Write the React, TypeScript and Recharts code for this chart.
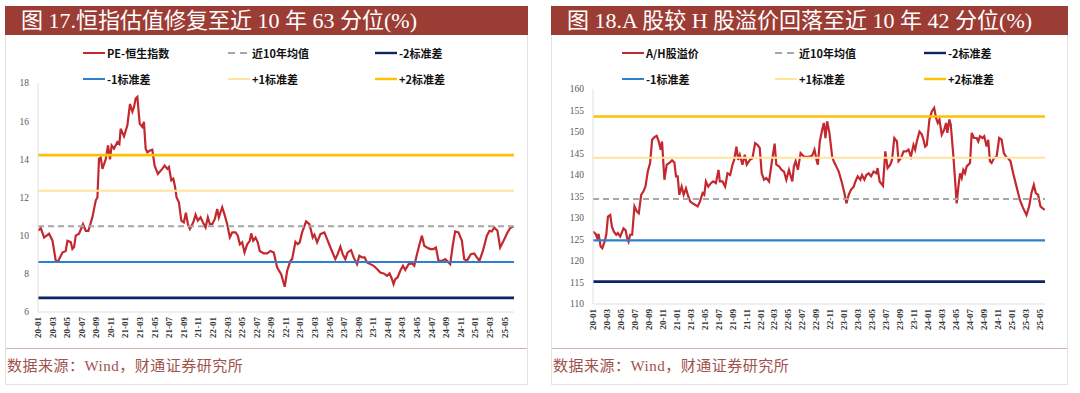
import type { CSSProperties } from 'react';
import { Line, LineChart, ReferenceLine, XAxis, YAxis } from 'recharts';

type Pair = [number, number];

// x = months since 2020-01, y = value
const xTickLabels = [
  '20-01', '20-03', '20-05', '20-07', '20-09', '20-11',
  '21-01', '21-03', '21-05', '21-07', '21-09', '21-11',
  '22-01', '22-03', '22-05', '22-07', '22-09', '22-11',
  '23-01', '23-03', '23-05', '23-07', '23-09', '23-11',
  '24-01', '24-03', '24-05', '24-07', '24-09', '24-11',
  '25-01', '25-03', '25-05',
];

const pePairs: Pair[] = [
  [0, 10.26], [0.38, 10.4], [0.84, 9.9], [1.52, 10.1], [1.98, 9.75], [2.44, 8.68], [2.76, 8.65], [3.35, 9.12],
  [3.8, 9.2], [4.04, 9.73], [4.49, 9.66], [4.72, 9.3], [4.95, 9.4], [5.18, 10.0], [5.63, 10.1], [6.18, 10.6],
  [6.55, 10.25], [6.91, 10.25], [7.46, 10.96], [7.92, 11.84], [8.15, 12.0], [8.37, 14.03], [8.6, 14.1], [8.84, 13.5],
  [9.29, 14.0], [9.6, 14.73], [9.88, 14.0], [10.1, 14.73], [10.42, 14.56], [10.89, 14.9], [11.16, 14.8], [11.34, 15.6],
  [11.8, 15.2], [12.26, 15.78], [12.62, 16.9], [12.95, 16.5], [13.17, 16.75], [13.4, 17.18], [13.63, 17.27], [13.95, 15.87],
  [14.31, 15.7], [14.53, 15.96], [14.77, 14.55], [15.0, 14.37], [15.36, 14.46], [15.68, 14.5], [16.0, 13.67], [16.45, 13.24],
  [17.05, 13.5], [17.37, 13.67], [17.74, 13.5], [17.96, 13.6], [18.29, 12.9], [18.56, 12.98], [18.78, 12.6], [19.01, 12.0],
  [19.33, 11.75], [19.66, 10.79], [20.01, 10.7], [20.29, 11.2], [20.56, 10.6], [20.84, 10.35], [21.3, 10.7], [21.62, 11.1],
  [21.93, 10.79], [22.3, 10.96], [22.62, 10.7], [22.99, 10.43], [23.3, 10.96], [23.58, 10.6], [23.9, 10.6], [24.26, 10.88],
  [24.59, 11.4], [24.81, 10.96], [25.27, 11.49], [25.59, 11.1], [25.96, 10.6], [26.32, 9.91], [26.64, 10.17], [27.1, 10.17],
  [27.41, 10.0], [27.69, 9.55], [28.01, 9.65], [28.33, 9.12], [28.7, 9.55], [29.05, 9.73], [29.25, 10.12], [29.52, 9.73],
  [29.84, 9.9], [30.15, 9.65], [30.42, 9.2], [30.97, 9.07], [31.44, 9.07], [31.89, 9.2], [32.34, 9.12], [32.81, 8.33],
  [33.36, 7.98], [33.85, 7.32], [34.18, 8.16], [34.63, 8.68], [34.86, 8.77], [35.32, 9.68], [35.63, 9.55], [35.9, 9.65],
  [36.23, 10.17], [36.78, 10.75], [37.23, 10.6], [37.69, 9.91], [37.92, 10.05], [38.29, 9.65], [38.74, 10.08], [39.29, 10.17],
  [39.66, 9.82], [40.2, 9.3], [40.79, 8.77], [41.11, 9.03], [41.48, 9.42], [41.8, 9.03], [42.16, 8.77], [42.48, 9.12],
  [42.95, 9.24], [43.3, 8.86], [43.77, 8.51], [44.08, 8.95], [44.45, 8.86], [44.81, 8.86], [45.14, 8.6], [45.59, 8.51],
  [46.04, 8.42], [46.51, 8.25], [46.96, 8.07], [47.41, 8.02], [47.88, 7.9], [48.23, 8.02], [48.56, 7.72], [48.78, 7.46],
  [49.01, 7.72], [49.33, 7.81], [49.7, 8.16], [50.07, 8.42], [50.38, 8.2], [50.84, 8.51], [51.3, 8.55], [51.62, 8.42],
  [51.99, 9.03], [52.34, 9.55], [52.67, 10.0], [52.99, 9.47], [53.36, 9.38], [53.81, 9.3], [54.26, 9.3], [54.59, 9.38],
  [54.95, 8.68], [55.41, 8.68], [55.86, 8.77], [56.32, 8.6], [56.55, 8.51], [56.92, 9.55], [57.23, 10.22], [57.68, 10.17],
  [58.15, 9.73], [58.47, 8.77], [58.84, 8.68], [59.38, 9.03], [59.84, 9.07], [60.21, 8.86], [60.56, 8.68], [61.03, 9.2],
  [61.58, 10.0], [61.93, 10.26], [62.26, 10.22], [62.58, 10.43], [63.03, 10.26], [63.4, 9.38], [63.77, 9.65], [64.32, 10.1],
  [64.77, 10.4], [65.22, 10.48],
];

const ahPairs: Pair[] = [
  [0, 126.85], [0.38, 126.3], [0.61, 125.3], [0.8, 126.3], [1.09, 123.4], [1.33, 123.0], [1.66, 124.5], [1.9, 126.1],
  [2.14, 130.3], [2.47, 130.7], [2.71, 128.0], [2.99, 126.8], [3.33, 126.1], [3.56, 126.5], [3.9, 125.7], [4.37, 127.6],
  [4.66, 127.2], [4.9, 125.3], [5.09, 124.5], [5.32, 126.1], [5.61, 126.1], [5.94, 132.7], [6.28, 131.5], [6.56, 131.1],
  [6.9, 135.4], [7.23, 136.2], [7.51, 137.3], [7.85, 140.8], [8.18, 142.8], [8.47, 148.2], [8.8, 148.8], [9.13, 149.1],
  [9.42, 147.8], [9.7, 145.9], [9.89, 147.8], [10.23, 138.9], [10.56, 142.4], [10.94, 142.8], [11.32, 143.4], [11.66, 142.9],
  [11.89, 139.7], [12.13, 139.7], [12.37, 135.4], [12.7, 137.3], [12.99, 135.4], [13.32, 136.9], [13.65, 135.0], [13.94, 133.8],
  [14.27, 133.4], [14.6, 133.1], [14.99, 132.7], [15.32, 133.8], [15.7, 135.8], [15.94, 135.4], [16.17, 138.5], [16.51, 137.3],
  [16.89, 138.1], [17.22, 138.5], [17.6, 138.1], [17.98, 141.2], [18.17, 138.5], [18.55, 138.5], [18.93, 137.3], [19.27, 140.4],
  [19.65, 140.0], [19.98, 142.4], [20.22, 143.5], [20.55, 146.6], [20.79, 143.5], [21.03, 144.7], [21.41, 142.4], [21.74, 144.7],
  [22.03, 142.4], [22.46, 143.5], [22.84, 143.9], [23.22, 147.4], [23.55, 147.0], [23.88, 146.3], [24.17, 140.4], [24.5, 138.9],
  [24.83, 139.3], [25.22, 138.5], [25.6, 142.8], [26.02, 147.3], [26.26, 142.4], [26.64, 142.0], [27.02, 141.2], [27.36, 140.8],
  [27.69, 138.9], [28.07, 141.2], [28.55, 138.5], [28.78, 142.0], [29.02, 143.2], [29.35, 141.2], [29.74, 145.1], [30.21, 144.3],
  [30.92, 144.2], [31.4, 144.5], [31.73, 145.9], [32.02, 143.5], [32.21, 142.4], [32.49, 147.8], [32.83, 150.5], [33.07, 152.1],
  [33.3, 148.6], [33.54, 152.5], [33.87, 149.8], [34.26, 144.3], [34.49, 143.2], [34.97, 141.6], [35.2, 140.8], [35.68, 138.1],
  [36.01, 135.8], [36.3, 133.4], [36.63, 135.4], [36.97, 136.6], [37.35, 137.3], [37.59, 138.5], [37.92, 139.7], [38.3, 138.9],
  [38.54, 140.0], [38.87, 138.9], [39.16, 140.0], [39.49, 140.4], [39.83, 139.7], [40.2, 140.8], [40.59, 140.4], [40.77, 141.6],
  [41.06, 138.5], [41.54, 137.5], [41.87, 145.5], [42.2, 141.6], [42.58, 142.4], [42.83, 143.5], [43.16, 148.6], [43.54, 147.8],
  [43.77, 143.2], [44.11, 143.9], [44.49, 145.5], [44.87, 145.5], [45.2, 145.9], [45.54, 144.3], [45.91, 147.0], [46.15, 145.9],
  [46.39, 147.8], [46.77, 150.1], [47.11, 149.4], [47.34, 148.2], [47.58, 146.6], [47.82, 147.0], [48.2, 153.0], [48.54, 154.8],
  [48.87, 155.6], [49.15, 153.2], [49.39, 152.1], [49.63, 152.9], [49.96, 149.4], [50.3, 150.5], [50.58, 152.1], [50.77, 149.8],
  [51.05, 152.9], [51.25, 151.7], [51.63, 144.3], [52.1, 133.4], [52.34, 137.3], [52.58, 140.4], [52.82, 139.3], [53.05, 141.2],
  [53.29, 140.4], [53.53, 142.0], [54.01, 142.8], [54.25, 149.8], [54.58, 148.6], [54.96, 148.6], [55.19, 147.8], [55.43, 149.0],
  [55.81, 148.6], [56.05, 149.0], [56.39, 146.6], [56.62, 148.2], [56.86, 143.2], [57.1, 142.8], [57.43, 143.9], [57.82, 144.3],
  [58.19, 148.6], [58.53, 148.2], [58.86, 145.1], [59.15, 144.3], [59.48, 143.9], [59.81, 143.2], [60.19, 140.4], [60.67, 137.3],
  [61.15, 134.2], [61.62, 132.3], [62.1, 130.7], [62.48, 132.7], [62.81, 135.8], [63.15, 137.7], [63.43, 135.8], [63.76, 135.4],
  [64.1, 132.7], [64.38, 132.3], [64.71, 131.9],
];

const peTicks = [6, 8, 10, 12, 14, 16, 18];
const ahTicks = [110, 115, 120, 125, 130, 135, 140, 145, 150, 155, 160];

// -2标准差, -1标准差, 近10年均值, +1标准差, +2标准差
const peBands = [6.74, 8.62, 10.49, 12.36, 14.22];
const ahBands = [115.2, 124.8, 134.4, 144.0, 153.6];
const bandNames = ['-2标准差', '-1标准差', '近10年均值', '+1标准差', '+2标准差'];

const RED = '#C4282F';
const bandStyle = [
  { color: '#0E2460', width: 2.6, dash: undefined },
  { color: '#2F80CC', width: 2.2, dash: undefined },
  { color: '#A6A6A6', width: 2, dash: '6 4' },
  { color: '#FFE49A', width: 2, dash: undefined },
  { color: '#FFC000', width: 2.6, dash: undefined },
];

const SERIF = '"Liberation Serif", "Times New Roman", "Noto Sans CJK SC", serif';
const SANS = '"Noto Sans CJK SC", "Noto Sans", sans-serif';

const RotTick = (props: any) => {
  const { x, y, payload } = props;
  return (
    <text
      x={x}
      y={y}
      dy={3}
      transform={`rotate(-90 ${x} ${y})`}
      textAnchor="end"
      fontSize={9}
      fontFamily={SERIF}
      fontWeight={700}
      fill="#333"
    >
      {xTickLabels[Math.round(payload.value / 2)]}
    </text>
  );
};

type PanelProps = {
  left: number;
  width: number;
  title: string;
  seriesName: string;
  pairs: Pair[];
  bands: number[];
  ticks: number[];
  xMax: number;
  yWidth: number;
  xHeight: number;
  top: number;
  right: number;
  cols: number[];
};

function LegendSwatch({ color, dash, width }: { color: string; dash?: string; width: number }) {
  return (
    <svg width={22} height={6} style={{ display: 'block', marginRight: 2 }}>
      <line x1={0} y1={3} x2={22} y2={3} stroke={color} strokeWidth={width > 2.3 ? 2.4 : 2} strokeDasharray={dash ? '7 5' : undefined} />
    </svg>
  );
}

function Panel(p: PanelProps) {
  const data = p.pairs.map(([m, v]) => ({ m, v }));
  const xTicks = xTickLabels.map((_, i) => i * 2);
  // Excel legend order: series, mean, -2sd / -1sd, +1sd, +2sd
  const legendRows = [
    [{ name: p.seriesName, color: RED, width: 2, dash: undefined as string | undefined }, { name: bandNames[2], ...bandStyle[2] }, { name: bandNames[0], ...bandStyle[0] }],
    [{ name: bandNames[1], ...bandStyle[1] }, { name: bandNames[3], ...bandStyle[3] }, { name: bandNames[4], ...bandStyle[4] }],
  ];
  const item: CSSProperties = { position: 'absolute', display: 'flex', alignItems: 'center', fontFamily: SANS, fontSize: 11, fontWeight: 700, color: '#111', whiteSpace: 'nowrap' };

  return (
    <div style={{ position: 'absolute', left: p.left, top: 5, width: p.width, height: 380, borderLeft: '1px solid #E3E3E3', borderRight: '1px solid #E3E3E3', borderBottom: '1px solid #E3E3E3', boxSizing: 'border-box' }}>
      <div style={{ position: 'absolute', left: -1, top: 1, width: p.width, height: 29, background: '#9C3D35', color: '#fff', fontFamily: SERIF, fontSize: 22, lineHeight: '29px', paddingLeft: 16, boxSizing: 'border-box', whiteSpace: 'nowrap' }}>
        {p.title}
      </div>
      {legendRows.map((row, r) =>
        row.map((it, c) => (
          <div key={`${r}-${c}`} style={{ ...item, left: p.cols[c], top: 40 + r * 26 }}>
            <LegendSwatch color={it.color} dash={it.dash} width={it.width} />
            <span>{it.name}</span>
          </div>
        ))
      )}
      <div style={{ position: 'absolute', left: 0, top: 30 }}>
        <LineChart width={p.width - 2} height={314} data={data} margin={{ top: p.top, right: p.right, left: 0, bottom: 0 }}>
          <XAxis
            dataKey="m"
            type="number"
            domain={[0, p.xMax]}
            ticks={xTicks}
            interval={0}
            tick={<RotTick />}
            tickLine={false}
            tickSize={0}
            tickMargin={5}
            height={p.xHeight}
            axisLine={{ stroke: '#E0E0E0' }}
            allowDataOverflow
          />
          <YAxis
            type="number"
            domain={[p.ticks[0], p.ticks[p.ticks.length - 1]]}
            ticks={p.ticks}
            interval={0}
            width={p.yWidth}
            tickLine={false}
            tickSize={0}
            tickMargin={9}
            axisLine={{ stroke: '#E0E0E0' }}
            tick={{ fontSize: 9.5, fontFamily: SERIF, fill: '#595959' }}
          />
          <Line type="linear" dataKey="v" stroke={RED} strokeWidth={2.2} dot={false} isAnimationActive={false} />
          {p.bands.map((b, i) => (
            <ReferenceLine key={i} y={b} stroke={bandStyle[i].color} strokeWidth={bandStyle[i].width} strokeDasharray={bandStyle[i].dash} />
          ))}
        </LineChart>
      </div>
      <div style={{ position: 'absolute', left: 0, top: 343, width: p.width - 2, borderTop: '1px solid #D2B1AA' }} />
      <div style={{ position: 'absolute', left: 1, top: 352, fontFamily: SERIF, fontSize: 15, letterSpacing: 0.5, lineHeight: '18px', color: '#A0524B', whiteSpace: 'nowrap' }}>
        数据来源：Wind，财通证券研究所
      </div>
    </div>
  );
}

export default function App() {
  return (
    <div style={{ position: 'absolute', left: 0, top: 0, width: 1080, height: 393, background: '#fff', overflow: 'hidden' }}>
      <Panel
        left={5}
        width={523}
        title="图 17.恒指估值修复至近 10 年 63 分位(%)"
        seriesName="PE-恒生指数"
        pairs={pePairs}
        bands={peBands}
        ticks={peTicks}
        xMax={65.3}
        yWidth={32}
        xHeight={37}
        top={48}
        right={13}
        cols={[77, 222, 369]}
      />
      <Panel
        left={551}
        width={517}
        title="图 18.A 股较 H 股溢价回落至近 10 年 42 分位(%)"
        seriesName="A/H股溢价"
        pairs={ahPairs}
        bands={ahBands}
        ticks={ahTicks}
        xMax={64.75}
        yWidth={41}
        xHeight={45}
        top={54}
        right={22}
        cols={[70, 223, 372]}
      />
    </div>
  );
}
